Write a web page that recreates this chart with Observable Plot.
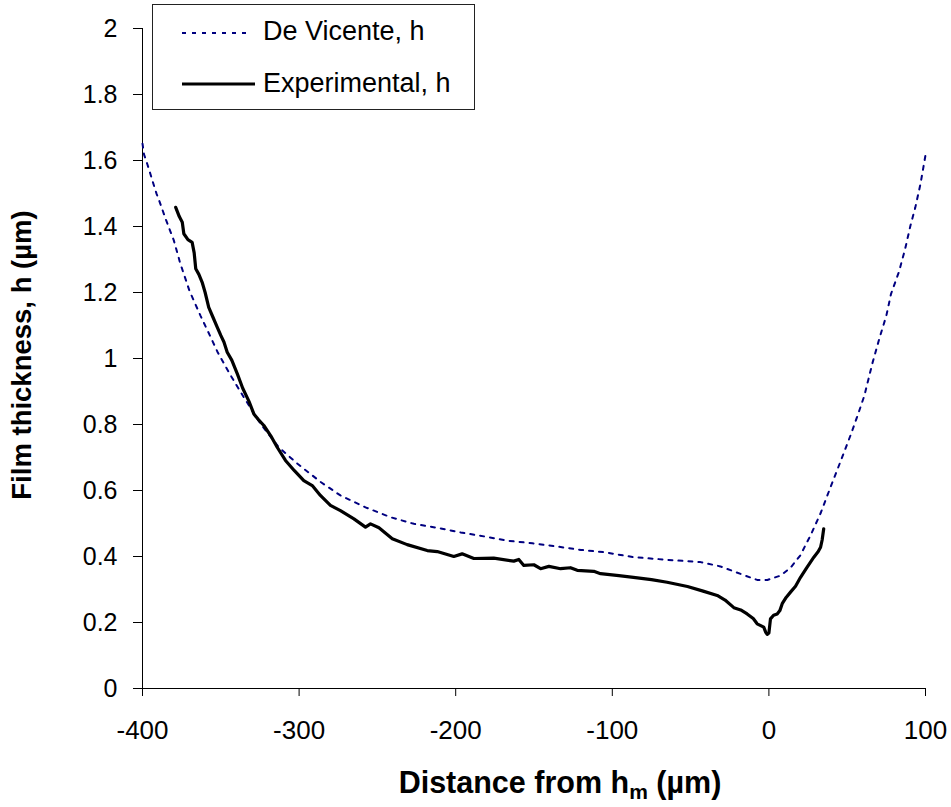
<!DOCTYPE html>
<html>
<head>
<meta charset="utf-8">
<script src="https://cdn.jsdelivr.net/npm/d3@7"></script>
<script src="https://cdn.jsdelivr.net/npm/@observablehq/plot@0.6"></script>
<style>
  html, body { margin: 0; padding: 0; background: #fff; }
  #chart svg { display: block; }
</style>
</head>
<body>
<div id="chart"></div>
<script>
// ---- Data ----
const xTicks = [-400, -300, -200, -100, 0, 100];
const yTicks = [0, 0.2, 0.4, 0.6, 0.8, 1, 1.2, 1.4, 1.6, 1.8, 2];
const seriesNames = ["De Vicente, h", "Experimental, h"];
const xLabel = "Distance from h";
const xLabelSub = "m";
const xLabelTail = " (µm)";
const yLabel = "Film thickness, h (µm)";

const deVicenteX = [-400, -399, -397, -395, -393, -391, -389, -385, -380, -376, -370, -363, -357, -352, -344, -336, -324.6, -313, -301, -286, -273.6, -257.6, -241.6, -226.7, -211.8, -196.9, -182, -167, -151, -135, -120, -105, -86.5, -65, -43.7, -31, -18, -7.5, -1, 7.4, 13.8, 20, 26.6, 33, 39.5, 46.8, 52.5, 57, 61, 66, 70.8, 75, 78, 83, 87, 90.4, 93.5, 96.8, 100.5];
const deVicenteH = [1.651, 1.618, 1.59, 1.56, 1.529, 1.499, 1.474, 1.42, 1.358, 1.29, 1.205, 1.13, 1.07, 1.019, 0.951, 0.888, 0.802, 0.731, 0.681, 0.625, 0.585, 0.549, 0.519, 0.499, 0.487, 0.473, 0.461, 0.448, 0.44, 0.43, 0.42, 0.413, 0.398, 0.39, 0.383, 0.37, 0.347, 0.329, 0.329, 0.342, 0.366, 0.403, 0.464, 0.531, 0.612, 0.701, 0.772, 0.832, 0.888, 0.984, 1.065, 1.13, 1.196, 1.262, 1.332, 1.403, 1.458, 1.529, 1.63];

const expX = [-378.8, -376.5, -374.6, -373.6, -371, -368.3, -367, -366, -364, -361.9, -360, -357.7, -355, -352.3, -350, -348, -345.9, -343, -339.5, -336, -332, -328.9, -326, -322.5, -318, -314, -308.7, -303, -297, -291.6, -286.4, -280, -273.6, -265, -257.6, -254.4, -249, -240.5, -231, -218.2, -211.8, -201.2, -195.9, -188.4, -175.7, -162.9, -159.7, -156.5, -150.1, -145.8, -140.5, -133, -126.7, -122.4, -111.8, -107.5, -95.8, -86.5, -75, -65, -52, -42, -33, -28, -22.4, -18, -13.9, -10, -7.5, -3.3, -2, -1.1, 0, 1, 3, 5.3, 7, 8.5, 11, 13.8, 17, 20.2, 24, 28.7, 31.5, 33, 34, 35];
const expH = [1.458, 1.43, 1.413, 1.378, 1.36, 1.352, 1.32, 1.272, 1.255, 1.231, 1.2, 1.155, 1.125, 1.095, 1.07, 1.05, 1.019, 0.995, 0.954, 0.91, 0.87, 0.832, 0.815, 0.797, 0.765, 0.731, 0.691, 0.66, 0.63, 0.615, 0.585, 0.555, 0.539, 0.514, 0.489, 0.499, 0.487, 0.454, 0.436, 0.418, 0.415, 0.4, 0.408, 0.394, 0.395, 0.386, 0.391, 0.373, 0.375, 0.363, 0.37, 0.363, 0.366, 0.358, 0.355, 0.348, 0.342, 0.337, 0.33, 0.322, 0.309, 0.295, 0.282, 0.268, 0.245, 0.238, 0.226, 0.212, 0.196, 0.186, 0.17, 0.164, 0.168, 0.211, 0.222, 0.226, 0.236, 0.257, 0.276, 0.292, 0.31, 0.337, 0.365, 0.398, 0.415, 0.428, 0.45, 0.484];

const deVicente = deVicenteX.map((x, i) => ({x, h: deVicenteH[i]}));
const experimental = expX.map((x, i) => ({x, h: expH[i]}));

const FONT = "'Liberation Sans', Arial, Helvetica, sans-serif";

const plot = Plot.plot({
  width: 951,
  height: 807,
  marginLeft: 142,
  marginRight: 26,
  marginTop: 28,
  marginBottom: 119,
  style: {fontFamily: FONT, fontSize: "25px", color: "#000", background: "#fff", overflow: "visible"},
  x: {domain: [-400, 100]},
  y: {domain: [0, 2]},
  marks: [
    Plot.axisX({ticks: xTicks, tickSize: 8, tickPadding: 24, label: null, fontSize: 26, tickFormat: d => String(d)}),
    Plot.axisY({ticks: yTicks, tickSize: 9, tickPadding: 16, label: null, fontSize: 25, tickFormat: d => String(+d.toFixed(1))}),
    Plot.ruleX([-400], {stroke: "#000", strokeWidth: 1}),
    Plot.ruleY([0], {stroke: "#000", strokeWidth: 1}),
    Plot.line(deVicente, {x: "x", y: "h", stroke: "#000080", strokeWidth: 2, strokeDasharray: "4,6", clip: false}),
    Plot.line(experimental, {x: "x", y: "h", stroke: "#000", strokeWidth: 3.2, strokeLinejoin: "round", strokeLinecap: "round"})
  ]
});

document.getElementById("chart").appendChild(plot);

const svg = d3.select(plot);

// Force tick label font sizes
svg.selectAll('[aria-label="x-axis tick label"]').style("font-size", "26px").style("font-family", FONT);
svg.selectAll('[aria-label="y-axis tick label"]').style("font-size", "25px").style("font-family", FONT);

// Axis titles
const xt = svg.append("text")
  .attr("x", 560).attr("y", 793)
  .attr("text-anchor", "middle")
  .attr("font-family", FONT).attr("font-weight", "bold").attr("font-size", 30.5)
  .attr("fill", "#000");
xt.append("tspan").text(xLabel);
xt.append("tspan").attr("font-size", 21).attr("dy", 6).text(xLabelSub);
xt.append("tspan").attr("dy", -6).text(xLabelTail);

svg.append("text")
  .attr("transform", "translate(31,355) rotate(-90)")
  .attr("text-anchor", "middle")
  .attr("font-family", FONT).attr("font-weight", "bold").attr("font-size", 27.5)
  .attr("fill", "#000")
  .text(yLabel);

// Legend
const lg = svg.append("g").attr("text-anchor", "start");
lg.append("rect")
  .attr("x", 152.5).attr("y", 4.5).attr("width", 322).attr("height", 105)
  .attr("fill", "#fff").attr("stroke", "#222").attr("stroke-width", 1);
lg.append("line")
  .attr("x1", 182).attr("x2", 250).attr("y1", 33).attr("y2", 33)
  .attr("stroke", "#000080").attr("stroke-width", 2).attr("stroke-dasharray", "4,6");
lg.append("line")
  .attr("x1", 182).attr("x2", 255).attr("y1", 84).attr("y2", 84)
  .attr("stroke", "#000").attr("stroke-width", 3.2);
lg.append("text")
  .attr("x", 263).attr("y", 40).attr("text-anchor", "start")
  .attr("font-family", FONT).attr("font-size", 27).attr("fill", "#000")
  .text(seriesNames[0]);
lg.append("text")
  .attr("x", 263).attr("y", 92).attr("text-anchor", "start")
  .attr("font-family", FONT).attr("font-size", 27).attr("fill", "#000")
  .text(seriesNames[1]);
</script>
</body>
</html>
